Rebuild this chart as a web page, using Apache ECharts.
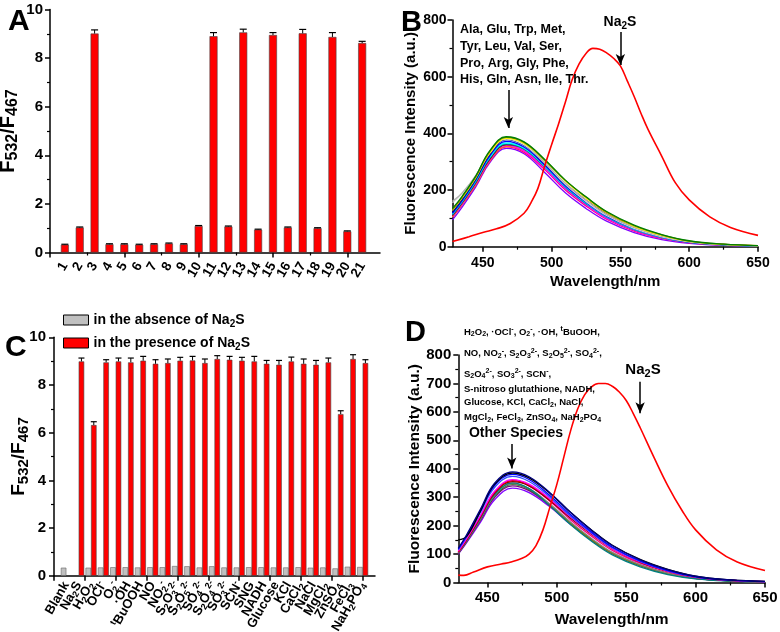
<!DOCTYPE html>
<html>
<head>
<meta charset="utf-8">
<script src="https://cdn.jsdelivr.net/npm/echarts@6/dist/echarts.min.js"></script>
<style>
  html, body { margin: 0; padding: 0; background: #fff; }
  #chart { width: 780px; height: 632px; }
</style>
</head>
<body>
<div id="chart"></div>
<script>
// ---- panel A : ratio for amino acids ----
var aIndex = [1, 2, 3, 4, 5, 6, 7, 8, 9, 10, 11, 12, 13, 14, 15, 16, 17, 18, 19, 20, 21];
var aRatio = [0.32, 1.03, 9.01, 0.34, 0.34, 0.32, 0.34, 0.37, 0.34, 1.09, 8.9, 1.07, 9.06, 0.94, 8.95, 1.03, 9.02, 1.0, 8.87, 0.87, 8.62];
var aErr = [0.02, 0.02, 0.15, 0.02, 0.02, 0.02, 0.02, 0.02, 0.02, 0.02, 0.15, 0.02, 0.13, 0.02, 0.1, 0.02, 0.16, 0.02, 0.18, 0.02, 0.07];

// ---- panel B : spectra with amino acids ----
var bWave = [428, 435, 445, 455, 467, 480, 495, 510, 525, 540, 560, 580, 600, 625, 650];
var bColors = ['#8000FF', '#FF0080', '#FF8000', '#FF00FF', '#800000', '#008080', '#00FFFF',
               '#0000FF', '#000080', '#D8D8D8', '#B0B0B0', '#FFFF00', '#808000', '#008000'];
var bOther = [
  [95, 140, 212, 296, 347, 328, 262, 190, 135, 90, 50, 25, 12, 5, 2],
  [104, 148, 218, 300, 352, 333, 272, 200, 144, 97, 55, 29, 14, 6, 2],
  [105, 150, 220, 302, 354, 338, 282, 215, 160, 112, 66, 35, 17, 7, 3],
  [108, 152, 223, 305, 358, 338, 276, 205, 148, 100, 58, 31, 15, 6, 2],
  [110, 155, 226, 308, 360, 345, 290, 222, 165, 116, 70, 38, 18, 8, 3],
  [112, 157, 229, 312, 362, 344, 282, 210, 152, 104, 60, 32, 15, 6, 2],
  [115, 160, 232, 315, 366, 348, 285, 212, 154, 106, 62, 33, 16, 7, 3],
  [118, 163, 236, 320, 372, 352, 288, 215, 157, 108, 64, 34, 16, 7, 3],
  [122, 168, 240, 326, 378, 358, 294, 220, 161, 112, 66, 36, 17, 7, 3],
  [155, 188, 250, 330, 380, 360, 295, 220, 160, 110, 65, 35, 17, 7, 3],
  [160, 190, 252, 334, 383, 364, 298, 224, 165, 114, 68, 37, 18, 8, 3],
  [128, 172, 244, 330, 382, 364, 304, 232, 172, 120, 72, 40, 19, 8, 4],
  [130, 175, 248, 335, 386, 368, 306, 234, 175, 122, 74, 42, 20, 9, 4],
  [135, 178, 250, 338, 388, 370, 308, 235, 176, 124, 76, 43, 21, 9, 4]
];
var bRedWave = [428, 440, 450, 460, 470, 480, 485, 490, 495, 500, 505, 510, 515, 520, 525, 530, 535, 540,
                545, 550, 555, 560, 565, 570, 580, 590, 600, 615, 630, 650];
var bRed = [18, 35, 50, 63, 82, 118, 155, 205, 285, 360, 432, 510, 590, 645, 682, 700, 697, 684,
            665, 638, 585, 530, 470, 415, 320, 225, 165, 105, 68, 40];

// ---- panel C : ratio for other species ----
var cIndex = [1, 2, 3, 4, 5, 6, 7, 8, 9, 10, 11, 12, 13, 14, 15, 16, 17, 18, 19, 20, 21, 22, 23, 24, 25];
var cLabels = ['Blank', 'Na{sub|2}S', 'H{sub|2}O{sub|2}', 'OCl{sup|-}', 'O{sub|2}{sup|-}', '·OH',
               '{sup|t}BuOOH', 'NO', 'NO{sub|2}{sup|-}', 'S{sub|2}O{sub|3}{sup|2-}', 'S{sub|2}O{sub|5}{sup|2-}',
               'SO{sub|4}{sup|2-}', 'S{sub|2}O{sub|4}{sup|2-}', 'SO{sub|3}{sup|2-}', 'SCN{sup|-}', 'SNG', 'NADH',
               'Glucose', 'KCl', 'CaCl{sub|2}', 'NaCl', 'MgCl{sub|2}', 'ZnSO{sub|4}', 'FeCl{sub|3}', 'NaH{sub|2}PO{sub|4}'];
var cAbsent = [0.34, null, 0.34, 0.35, 0.36, 0.36, 0.35, 0.36, 0.36, 0.41, 0.40, 0.35, 0.40, 0.35, 0.35,
               0.36, 0.36, 0.35, 0.35, 0.36, 0.34, 0.35, 0.31, 0.38, 0.37];
var cPresent = [null, 8.99, 6.32, 8.95, 8.99, 8.95, 9.02, 8.89, 8.92, 9.02, 9.03, 8.92, 9.09, 9.06, 9.02,
                8.99, 8.89, 8.85, 8.99, 8.89, 8.85, 8.95, 6.78, 9.09, 8.92];
var cPresentErr = [null, 0.14, 0.14, 0.11, 0.14, 0.18, 0.18, 0.17, 0.17, 0.14, 0.17, 0.17, 0.14, 0.14, 0.14,
                   0.21, 0.14, 0.18, 0.18, 0.2, 0.18, 0.18, 0.14, 0.18, 0.14];

// ---- panel D : spectra with other species ----
var dWave = [429, 435, 445, 455, 468, 480, 495, 510, 525, 540, 560, 580, 600, 625, 650];
var dColors = ['#8000FF', '#800080', '#008000', '#808000', '#808080', '#008080', '#FF0080',
               '#800000', '#E00000', '#FF00FF', '#3050FF', '#0000FF', '#000000', '#000080'];
var dOther = [
  [100, 140, 212, 290, 332, 316, 266, 204, 148, 101, 59, 30, 14, 6, 2],
  [102, 143, 218, 298, 340, 323, 270, 207, 150, 102, 60, 31, 15, 6, 2],
  [103, 145, 222, 303, 345, 327, 272, 208, 151, 103, 61, 32, 15, 6, 2],
  [104, 146, 224, 306, 348, 329, 272, 207, 150, 102, 60, 31, 15, 6, 2],
  [104, 146, 223, 305, 347, 330, 276, 212, 155, 106, 63, 33, 16, 6, 2],
  [105, 148, 226, 308, 350, 330, 270, 203, 145, 97, 55, 28, 13, 5, 2],
  [106, 150, 230, 314, 358, 340, 286, 220, 163, 113, 68, 37, 18, 7, 3],
  [108, 150, 230, 313, 355, 340, 288, 226, 170, 119, 72, 40, 19, 8, 3],
  [108, 152, 233, 316, 358, 343, 292, 230, 173, 122, 75, 42, 20, 8, 3],
  [110, 154, 236, 320, 362, 346, 294, 230, 172, 120, 73, 40, 19, 8, 3],
  [115, 160, 246, 333, 373, 355, 300, 233, 174, 122, 74, 41, 20, 8, 3],
  [118, 164, 252, 340, 380, 362, 306, 238, 178, 125, 76, 42, 20, 8, 3],
  [150, 162, 252, 344, 385, 368, 314, 246, 185, 131, 81, 46, 22, 9, 4],
  [120, 168, 258, 348, 389, 372, 316, 246, 184, 130, 80, 45, 22, 9, 4]
];
var dRedWave = [429, 433, 440, 450, 460, 467, 475, 480, 485, 490, 495, 500, 505, 510, 515, 520, 525, 530,
                535, 540, 545, 550, 555, 560, 570, 580, 590, 600, 615, 630, 650];
var dRed = [26, 25, 37, 55, 65, 72, 85, 100, 130, 185, 265, 345, 440, 535, 610, 660, 688, 700,
            700, 690, 670, 640, 595, 545, 440, 340, 255, 185, 115, 72, 42];

var FF = '"Liberation Sans", Arial, Helvetica, sans-serif';

function richSet(size) {
  var small = Math.round(size * 0.72);
  var shift = Math.round(size * 0.55);
  return {
    sub: { fontSize: small, fontWeight: 'bold', fontFamily: FF, padding: [shift, 0, 0, 0] },
    sup: { fontSize: small, fontWeight: 'bold', fontFamily: FF, padding: [0, 0, shift, 0] }
  };
}

// grid definitions (main plot box + a tick-only box so ticks start at round values)
var gA = { left: 50, top: 9.5, width: 330, height: 243 };
var gB = { left: 452.5, top: 20, width: 305.5, height: 226.7 };
var gC = { left: 54, top: 337.3, width: 321, height: 238.5 };
var gD = { left: 458.3, top: 355, width: 306.7, height: 227.5 };

function tickGrid(g, min, max, tMin, tMax) {
  var k = g.width / (max - min);
  return { left: g.left + (tMin - min) * k, top: g.top, width: (tMax - tMin) * k, height: g.height };
}
function plainGrid(g) {
  return { left: g.left, top: g.top, width: g.width, height: g.height, containLabel: false, outerBoundsMode: 'none' };
}

var grids = [
  plainGrid(gA), plainGrid(tickGrid(gA, 0, 22.2, 0, 20)),
  plainGrid(gB), plainGrid(tickGrid(gB, 428, 650, 450, 650)),
  plainGrid(gC), plainGrid(tickGrid(gC, 0, 26, 0, 25)),
  plainGrid(gD), plainGrid(tickGrid(gD, 429, 650, 450, 650))
];

var LINE = { show: true, onZero: false, lineStyle: { color: '#000', width: 1.5 } };
var NOLINE = { show: false };
function ticks(len) { return { show: true, inside: false, length: len, lineStyle: { color: '#000', width: 1.5 } }; }
function minor(split) { return { show: true, splitNumber: split, length: 3, lineStyle: { color: '#000', width: 1.2 } }; }
function labelStyle(size, margin, extra) {
  var o = { show: true, color: '#000', fontSize: size, fontWeight: 'bold', fontFamily: FF, margin: margin };
  for (var k in extra) o[k] = extra[k];
  return o;
}
function nameStyle(size) {
  return { color: '#000', fontSize: size, fontWeight: 'bold', fontFamily: FF, rich: richSet(size) };
}
function ratioName(size, subSize) {
  return { color: '#000', fontSize: size, fontWeight: 'bold', fontFamily: FF,
    rich: { sub: { fontSize: subSize, fontWeight: 'bold', fontFamily: FF, padding: [10, 0, 0, 0] } } };
}
function hiddenAxis(grid) { return { type: 'value', gridIndex: grid, show: false, min: 0, max: 1 }; }

var xAxes = [
  // A main: labels at every integer
  { type: 'value', gridIndex: 0, min: 0, max: 22.2, interval: 1, axisLine: LINE, axisTick: { show: false },
    splitLine: { show: false },
    axisLabel: labelStyle(13.5, 11, { rotate: 60, formatter: function (v) {
      return aIndex.indexOf(v) >= 0 ? String(v) : ''; } }) },
  // A ticks
  { type: 'value', gridIndex: 1, min: 0, max: 20, interval: 5, axisLine: NOLINE, axisTick: ticks(5),
    minorTick: minor(2), splitLine: { show: false }, axisLabel: { show: false } },
  // B main
  { type: 'value', gridIndex: 2, min: 428, max: 650, axisLine: LINE, axisTick: { show: false },
    splitLine: { show: false }, axisLabel: { show: false },
    name: 'Wavelength/nm', nameLocation: 'middle', nameGap: 28, nameMoveOverlap: false, nameTextStyle: nameStyle(15) },
  // B ticks + labels
  { type: 'value', gridIndex: 3, min: 450, max: 650, interval: 50, axisLine: NOLINE, axisTick: ticks(5),
    minorTick: minor(2), splitLine: { show: false }, axisLabel: labelStyle(14, 9, {}) },
  // C main
  { type: 'value', gridIndex: 4, min: 0, max: 26, interval: 1, axisLine: LINE, axisTick: { show: false },
    splitLine: { show: false },
    axisLabel: labelStyle(13, 7, { rotate: 60, rich: richSet(13), formatter: function (v) {
      var i = cIndex.indexOf(v); return i >= 0 ? cLabels[i] : ''; } }) },
  // C ticks
  { type: 'value', gridIndex: 5, min: 0, max: 25, interval: 5, axisLine: NOLINE, axisTick: ticks(5),
    minorTick: { show: true, splitNumber: 2, length: 5, lineStyle: { color: '#000', width: 1.5 } },
    splitLine: { show: false }, axisLabel: { show: false } },
  // D main
  { type: 'value', gridIndex: 6, min: 429, max: 650, axisLine: LINE, axisTick: { show: false },
    splitLine: { show: false }, axisLabel: { show: false },
    name: 'Wavelength/nm', nameLocation: 'middle', nameGap: 29, nameMoveOverlap: false, nameTextStyle: nameStyle(15.5) },
  // D ticks + labels
  { type: 'value', gridIndex: 7, min: 450, max: 650, interval: 50, axisLine: NOLINE, axisTick: ticks(5),
    minorTick: minor(2), splitLine: { show: false }, axisLabel: labelStyle(15, 8, {}) }
];

var yAxes = [
  { type: 'value', gridIndex: 0, min: 0, max: 10, interval: 2, axisLine: LINE, axisTick: ticks(5),
    minorTick: minor(2), splitLine: { show: false }, axisLabel: labelStyle(15, 7, {}),
    name: 'F{sub|532}/F{sub|467}', nameLocation: 'middle', nameGap: 29, nameMoveOverlap: false,
    nameTextStyle: ratioName(20, 16) },
  hiddenAxis(1),
  { type: 'value', gridIndex: 2, min: 0, max: 800, interval: 200, axisLine: LINE, axisTick: ticks(5),
    minorTick: minor(2), splitLine: { show: false }, axisLabel: labelStyle(14, 6, {}),
    name: 'Fluorescence Intensity (a.u.)', nameLocation: 'middle', nameGap: 34, nameMoveOverlap: false,
    nameTextStyle: nameStyle(15) },
  hiddenAxis(3),
  { type: 'value', gridIndex: 4, min: 0, max: 10, interval: 2, axisLine: LINE, axisTick: ticks(5),
    minorTick: minor(2), splitLine: { show: false }, axisLabel: labelStyle(15, 8, {}),
    name: 'F{sub|532}/F{sub|467}', nameLocation: 'middle', nameGap: 23, nameMoveOverlap: false,
    nameTextStyle: ratioName(19, 15) },
  hiddenAxis(5),
  { type: 'value', gridIndex: 6, min: 0, max: 800, interval: 100, axisLine: LINE, axisTick: ticks(5),
    minorTick: minor(2), splitLine: { show: false }, axisLabel: labelStyle(15, 7, {}),
    name: 'Fluorescence Intensity (a.u.)', nameLocation: 'middle', nameGap: 36, nameMoveOverlap: false,
    nameTextStyle: nameStyle(15.5) },
  hiddenAxis(7)
];

function pairs(xs, ys) {
  return xs.map(function (x, i) { return [x, ys[i]]; });
}

function errSeries(xi, yi, xs, ys, es, dx, cap) {
  var data = [];
  xs.forEach(function (x, i) { if (ys[i] != null) data.push([x, ys[i], es[i]]); });
  return {
    type: 'custom', xAxisIndex: xi, yAxisIndex: yi, silent: true, z: 5, data: data,
    renderItem: function (params, api) {
      var p0 = api.coord([api.value(0), api.value(1)]);
      var p1 = api.coord([api.value(0), api.value(1) + api.value(2)]);
      var x = p0[0] + dx;
      return { type: 'group', children: [
        { type: 'line', shape: { x1: x, y1: p0[1], x2: x, y2: p1[1] }, style: { stroke: '#000', lineWidth: 1 } },
        { type: 'line', shape: { x1: x - cap, y1: p1[1], x2: x + cap, y2: p1[1] }, style: { stroke: '#000', lineWidth: 1.2 } }
      ] };
    }
  };
}

function spectrum(xi, yi, xs, ys, color, width) {
  return { type: 'line', xAxisIndex: xi, yAxisIndex: yi, data: pairs(xs, ys), smooth: 0.4,
    showSymbol: false, symbol: 'none', silent: true, z: 2,
    lineStyle: { color: color, width: width }, itemStyle: { color: color } };
}

function arrows(list) {
  return { silent: true, symbol: ['none', 'arrow'], symbolSize: [7, 11], label: { show: false },
    lineStyle: { color: '#000', width: 1.5, type: 'solid' }, emphasis: { disabled: true },
    data: list.map(function (a) { return [{ coord: [a[0], a[1]] }, { coord: [a[0], a[2]] }]; }) };
}

var series = [];

// A
series.push({ type: 'bar', name: 'ratioA', xAxisIndex: 0, yAxisIndex: 0, data: pairs(aIndex, aRatio),
  barWidth: 8, itemStyle: { color: '#FF0000', borderColor: '#444', borderWidth: 0.6 } });
series.push(errSeries(0, 0, aIndex, aRatio, aErr, 0, 3.5));

// B
bOther.forEach(function (ys, i) { series.push(spectrum(2, 2, bWave, ys, bColors[i], 1.3)); });
var bRedSeries = spectrum(2, 2, bRedWave, bRed, '#FF0000', 1.6);
bRedSeries.z = 3;
bRedSeries.markLine = arrows([[468.6, 553, 419], [550, 758, 641]]);
series.push(bRedSeries);

// C
series.push({ type: 'bar', name: 'absence', xAxisIndex: 4, yAxisIndex: 4, data: pairs(cIndex, cAbsent),
  barWidth: 5.5, barGap: '0%', itemStyle: { color: '#C0C0C0', borderColor: '#666', borderWidth: 0.6 } });
series.push({ type: 'bar', name: 'presence', xAxisIndex: 4, yAxisIndex: 4, data: pairs(cIndex, cPresent),
  barWidth: 5.5, barGap: '0%', itemStyle: { color: '#FF0000', borderColor: '#444', borderWidth: 0.6 } });
series.push(errSeries(4, 4, cIndex, cPresent, cPresentErr, 2.75, 3));

// D
dOther.forEach(function (ys, i) { series.push(spectrum(6, 6, dWave, ys, dColors[i], 1.3)); });
var dRedSeries = spectrum(6, 6, dRedWave, dRed, '#FF0000', 1.6);
dRedSeries.z = 3;
dRedSeries.markLine = arrows([[467.5, 487, 401], [560, 706, 595]]);
series.push(dRedSeries);

function txt(x, y, text, size, align) {
  return { type: 'text', x: x, y: y, silent: true, z: 10,
    style: { text: text, fill: '#000', fontSize: size, fontWeight: 'bold', fontFamily: FF,
      align: align || 'left', verticalAlign: 'middle', rich: richSet(size) } };
}

var graphics = [
  txt(8, 21.5, 'A', 30), txt(401, 23, 'B', 29), txt(5, 347.5, 'C', 30), txt(405, 333, 'D', 29),
  txt(460, 30, 'Ala, Glu, Trp, Met,', 12.5), txt(460, 46.7, 'Tyr, Leu, Val, Ser,', 12.5),
  txt(460, 63.3, 'Pro, Arg, Gly, Phe,', 12.5), txt(460, 80, 'His, Gln, Asn, Ile, Thr.', 12.5),
  txt(620, 22, 'Na{sub|2}S', 14, 'center'),
  txt(464, 332, 'H{sub|2}O{sub|2}, ·OCl{sup|-}, O{sub|2}{sup|-}, ·OH, {sup|t}BuOOH,', 9.5),
  txt(464, 353.5, 'NO, NO{sub|2}{sup|-}, S{sub|2}O{sub|3}{sup|2-}, S{sub|2}O{sub|5}{sup|2-}, SO{sub|4}{sup|2-},', 9.5),
  txt(464, 374, 'S{sub|2}O{sub|4}{sup|2-}, SO{sub|3}{sup|2-}, SCN{sup|-},', 9.5),
  txt(464, 389, 'S-nitroso glutathione, NADH,', 9.5),
  txt(464, 402.5, 'Glucose, KCl, CaCl{sub|2}, NaCl,', 9.5),
  txt(464, 417.5, 'MgCl{sub|2}, FeCl{sub|3}, ZnSO{sub|4}, NaH{sub|2}PO{sub|4}', 9.5),
  txt(516, 433, 'Other Species', 14, 'center'),
  txt(643, 370, 'Na{sub|2}S', 15, 'center')
];

var chart = echarts.init(document.getElementById('chart'), null, { renderer: 'canvas' });
chart.setOption({
  backgroundColor: '#fff',
  animation: false,
  grid: grids,
  xAxis: xAxes,
  yAxis: yAxes,
  legend: {
    orient: 'vertical', left: 63, top: 313, padding: 0, itemWidth: 25, itemHeight: 10, itemGap: 7,
    icon: 'rect', selectedMode: false, data: ['absence', 'presence'],
    itemStyle: { borderColor: '#000', borderWidth: 1 },
    formatter: function (n) {
      return n === 'absence' ? 'in the absence of Na{sub|2}S' : 'in the presence of Na{sub|2}S';
    },
    textStyle: { color: '#000', fontSize: 14, fontWeight: 'bold', fontFamily: FF, rich: richSet(14) }
  },
  graphic: graphics,
  series: series
});
</script>
</body>
</html>
